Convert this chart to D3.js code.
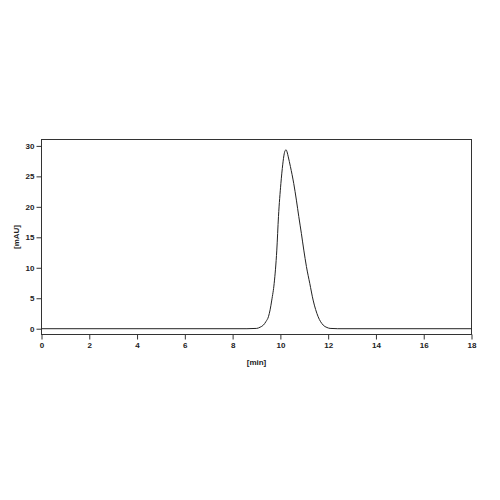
<!DOCTYPE html>
<meta charset="utf-8">
<head>
  <script src="https://d3js.org/d3.v7.min.js"></script>
  <style>
    body { margin: 0; background: #fff; }
    .axis text { font-family: "Liberation Sans", Arial, sans-serif; font-size: 8px; font-weight: bold; fill: #222; }
    .axis line { stroke: #333; }
  </style>
</head>
<body>
  <div id="my_dataviz"></div>
</body>
<script>
  // chromatogram trace: retention time [min] and signal [mAU]
  var times = [0, 8.6, 9.01, 9.15, 9.29, 9.4, 9.5, 9.57, 9.64, 9.74, 9.85, 9.92, 10.02, 10.1, 10.16, 10.2, 10.24, 10.28, 10.33, 10.42, 10.56, 10.67, 10.77, 10.88, 10.98, 11.09, 11.23, 11.37, 11.58, 11.79, 11.95, 12.08, 12.4, 18];
  var signal = [0, 0, 0.05, 0.25, 0.6, 1.2, 1.97, 3.1, 4.7, 7.44, 12.9, 18.4, 23.8, 27.0, 28.7, 29.25, 29.35, 29.0, 28.2, 26.6, 23.8, 21.1, 18.4, 15.6, 12.9, 10.2, 7.44, 4.7, 1.97, 0.6, 0.2, 0.05, 0, 0];

  var xTicks = [0, 2, 4, 6, 8, 10, 12, 14, 16, 18];
  var yTicks = [0, 5, 10, 15, 20, 25, 30];

  var margin = { top: 139.5, right: 28.5, bottom: 165.5, left: 41.5 },
    width = 500 - margin.left - margin.right,
    height = 500 - margin.top - margin.bottom;

  var svg = d3.select("#my_dataviz")
    .append("svg")
    .attr("width", 500)
    .attr("height", 500)
    .append("g")
    .attr("transform", "translate(" + margin.left + "," + margin.top + ")");

  var x = d3.scaleLinear().domain([0, 18]).range([0, width]);
  var y = d3.scaleLinear().domain([-0.95, 31.05]).range([height, 0]);

  // axes
  var xAxis = svg.append("g")
    .attr("class", "axis")
    .attr("transform", "translate(0," + height + ")")
    .call(d3.axisBottom(x).tickValues(xTicks).tickSize(5).tickSizeOuter(0).tickPadding(3));
  xAxis.select(".domain").remove();

  var yAxis = svg.append("g")
    .attr("class", "axis")
    .call(d3.axisLeft(y).tickValues(yTicks).tickSize(5).tickSizeOuter(0).tickPadding(2));
  yAxis.select(".domain").remove();

  // frame
  svg.append("rect")
    .attr("x", 0)
    .attr("y", 0)
    .attr("width", width)
    .attr("height", height)
    .attr("fill", "none")
    .attr("stroke", "#333")
    .attr("stroke-width", 1);

  // trace
  var data = times.map(function (t, i) { return { t: t, v: signal[i] }; });
  svg.append("path")
    .datum(data)
    .attr("fill", "none")
    .attr("stroke", "#222")
    .attr("stroke-width", 1)
    .attr("d", d3.line()
      .x(function (d) { return x(d.t); })
      .y(function (d) { return y(d.v); })
      .curve(d3.curveMonotoneX));

  // axis titles
  svg.append("text")
    .attr("x", width / 2)
    .attr("y", height + 30)
    .attr("text-anchor", "middle")
    .style("font-family", "'Liberation Sans', Arial, sans-serif")
    .style("font-size", "8px")
    .style("font-weight", "bold")
    .style("fill", "#222")
    .text("[min]");

  svg.append("text")
    .attr("transform", "translate(" + (-23) + "," + (height / 2) + ")rotate(-90)")
    .attr("text-anchor", "middle")
    .style("font-family", "'Liberation Sans', Arial, sans-serif")
    .style("font-size", "8px")
    .style("font-weight", "bold")
    .style("fill", "#222")
    .text("[mAU]");
</script>
